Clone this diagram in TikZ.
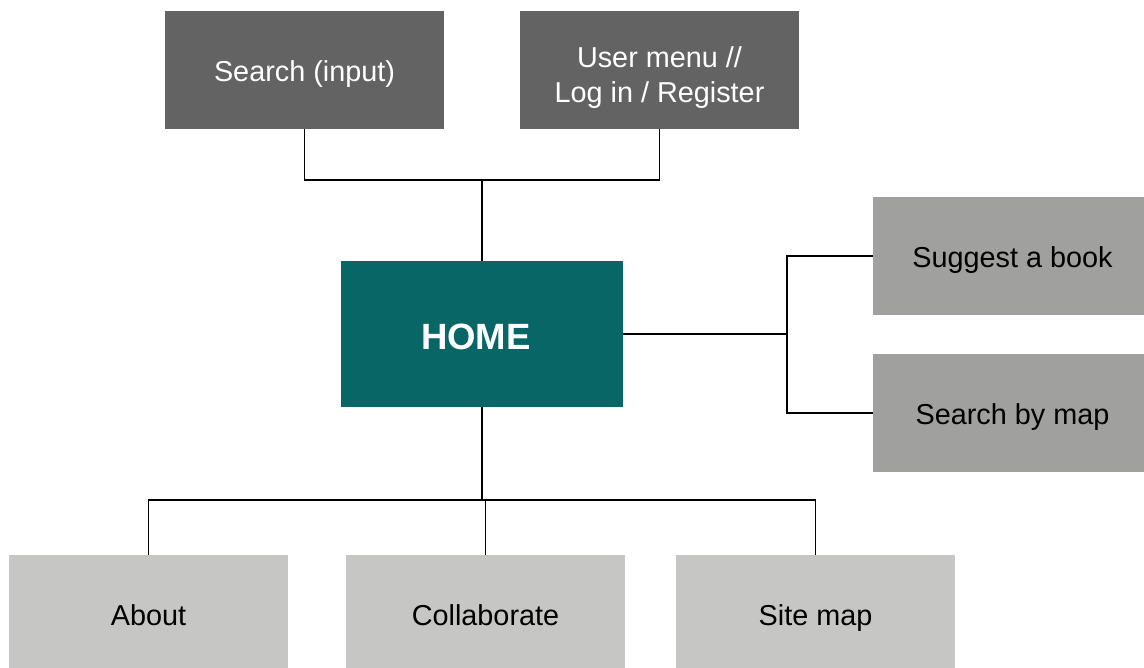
\documentclass[tikz,border=0pt]{standalone}
\usepackage{fontspec}
\setmainfont{Liberation Sans}
\usepackage{xcolor}
\usetikzlibrary{positioning}
\definecolor{menugray}{RGB}{99,99,99}
\definecolor{sidegray}{RGB}{160,160,159}
\definecolor{footgray}{RGB}{198,198,197}
\definecolor{hometeal}{RGB}{8,102,102}

\tikzset{
  pagebox/.style={minimum width=5.58cm, minimum height=2.36cm, inner sep=0pt,
    align=center, text height=13.6pt, text depth=0pt,
    font=\fontsize{16.4}{19.9}\selectfont},
  topbox/.style={pagebox, fill=menugray, text=white},
  sidebox/.style={pagebox, fill=sidegray, text=black},
  footbox/.style={pagebox, fill=footgray, text=black},
  homebox/.style={pagebox, minimum width=5.64cm, minimum height=2.92cm,
    text height=17.2pt, fill=hometeal, text=white,
    font=\fontsize{20.8}{25}\selectfont\bfseries},
  link/.style={draw=black, line width=1.1pt}
}

\begin{document}
\begin{tikzpicture}[x=0.02cm, y=-0.02cm]
  \useasboundingbox (0,0) rectangle (1144,668);

  % Home page
  \node[homebox] (home) at (482,334) {HOME\hspace{7pt}};

  % Header boxes
  \node[topbox] (search) at (304.5,70) {Search (input)};
  \node[topbox, text height=37.4pt] (user) at (659.5,70) {User menu //\\Log in / Register};

  % Side boxes
  \node[sidebox] (suggest) at (1012.5,256) {Suggest a book};
  \node[sidebox] (mapsearch) at (1012.5,413) {Search by map};

  % Footer boxes
  \node[footbox] (about) at (148.5,614) {About};
  \node[footbox] (collab) at (485.5,614) {Collaborate};
  \node[footbox] (sitemap) at (815.5,614) {Site map};

  % Joints
  \coordinate (topjoin) at (482,180);
  \coordinate (rightjoin) at (787,334);
  \coordinate (footjoin) at (485.5,500);

  % Connectors
  \draw[link] (search.south) |- (topjoin) -| (user.south);
  \draw[link] (topjoin) -- (home.north);
  \draw[link] (home.east) -- (rightjoin);
  \draw[link] (suggest.west) -| (rightjoin) |- (mapsearch.west);
  \draw[link] (home.south) |- (footjoin);
  \draw[link] (about.north) |- (footjoin) -| (sitemap.north);
  \draw[link] (footjoin) -- (collab.north);
\end{tikzpicture}
\end{document}
